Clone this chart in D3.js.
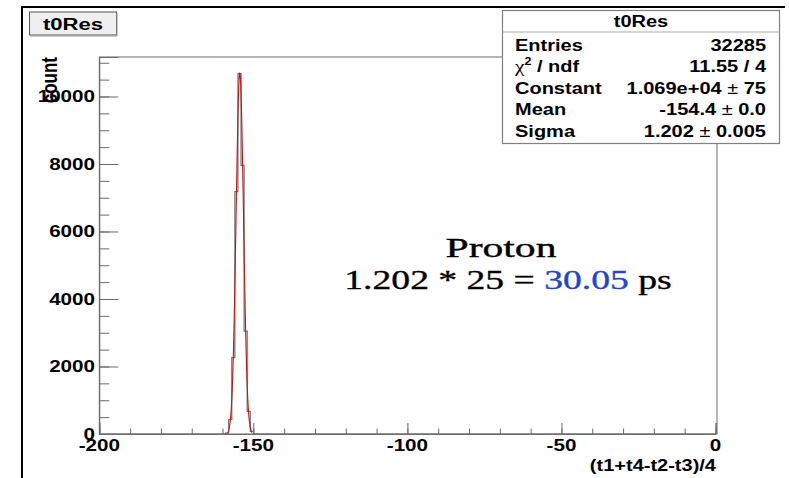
<!DOCTYPE html>
<html>
<head>
<meta charset="utf-8">
<script src="https://cdn.jsdelivr.net/npm/d3@7"></script>
<style>
  html, body { margin: 0; padding: 0; background: #fff; }
  svg { display: block; }
</style>
</head>
<body>
<svg id="chart" width="789" height="478"></svg>
<script>
// ---- data ----
const histTitle = "t0Res";
const xTitle = "(t1+t4-t2-t3)/4";
const yTitle = "count";
const binLow = [-160, -159, -158, -157, -156, -155, -154, -153, -152, -151, -150];
const binCount = [5, 25, 430, 2260, 7180, 10680, 7960, 3050, 670, 80, 8];
const binWidth = 1;
const xMajorTicks = [-200, -150, -100, -50, 0];
const yMajorTicks = [0, 2000, 4000, 6000, 8000, 10000];
const fitConstant = 1.069e4, fitMean = -154.4, fitSigma = 1.202;
const fitRange = [-158.6, -150.4];
const statLabels = ["Entries", "χ2 / ndf", "Constant", "Mean", "Sigma"];
const statValues = [["32285"], ["11.55 / 4"], ["1.069e+04", "75"], ["-154.4", "0.0"], ["1.202", "0.005"]];
const noteLine1 = "Proton";
const noteLine2 = ["1.202 * 25 = ", "30.05", " ps"];

// ---- layout ----
const svg = d3.select("#chart");
const L = 99.3, R = 715.5, T = 57, B = 434;
const x = d3.scaleLinear().domain([-200, 0]).range([L, R]);
const y = d3.scaleLinear().domain([0, 11170]).range([B, T]);
const SANS = "'Liberation Sans', Arial, sans-serif";
const SERIF = "'Liberation Serif', 'Times New Roman', serif";
const SX = 1.25;

function sText(g, px, py, str, anchor, size, sx) {
  return g.append("text")
    .attr("transform", `translate(${px},${py}) scale(${sx || SX},1)`)
    .attr("text-anchor", anchor || "start")
    .attr("font-family", SANS).attr("font-weight", "bold")
    .attr("font-size", size || 16).attr("fill", "#000")
    .text(str);
}

// outer canvas frame
svg.append("path").attr("d", "M22,478 L22,7 L785,7")
  .attr("fill", "none").attr("stroke", "#000").attr("stroke-width", 2);

// plot frame
svg.append("rect").attr("x", L).attr("y", T).attr("width", R - L + 1.5).attr("height", B - T)
  .attr("fill", "none").attr("stroke", "#6a6a6a").attr("stroke-width", 1);

// y axis (ticks inward)
const yMinor = d3.range(0, 11001, 500);
svg.append("g").attr("transform", `translate(${L},0)`)
  .call(d3.axisLeft(y).tickValues(yMinor).tickSize(-10).tickFormat(""))
  .call(g => { g.select(".domain").remove(); g.selectAll("line").attr("stroke", "#6a6a6a"); });
svg.append("g").attr("transform", `translate(${L},0)`)
  .call(d3.axisLeft(y).tickValues(yMajorTicks).tickSize(-19).tickFormat(""))
  .call(g => { g.select(".domain").attr("stroke", "#6a6a6a"); g.selectAll("line").attr("stroke", "#6a6a6a"); });
yMajorTicks.forEach(v => sText(svg, 95, y(v) + 6, String(v), "end", 16.5));

// x axis (ticks inward)
const xMinor = d3.range(-200, 1, 10);
svg.append("g").attr("transform", `translate(0,${B})`)
  .call(d3.axisBottom(x).tickValues(xMinor).tickSize(-5.5).tickFormat(""))
  .call(g => { g.select(".domain").remove(); g.selectAll("line").attr("stroke", "#6a6a6a"); });
svg.append("g").attr("transform", `translate(0,${B})`)
  .call(d3.axisBottom(x).tickValues(xMajorTicks).tickSize(-11).tickFormat(""))
  .call(g => { g.select(".domain").attr("stroke", "#6a6a6a"); g.selectAll("line").attr("stroke", "#6a6a6a"); });
xMajorTicks.forEach(v => sText(svg, x(v), 451, String(v), "middle", 16.5));

// axis titles
sText(svg, 716, 471, xTitle, "end");
svg.append("text")
  .attr("transform", `translate(57,${T}) rotate(-90) scale(1,1.25)`)
  .attr("text-anchor", "end").attr("font-family", SANS).attr("font-weight", "bold")
  .attr("font-size", 17).text(yTitle);

// histogram step outline (outline only, like ROOT's default draw)
let pts = [[x(-200), y(0)], [x(binLow[0]), y(0)]];
binLow.forEach((lo, i) => {
  pts.push([x(lo), y(binCount[i])]);
  pts.push([x(lo + binWidth), y(binCount[i])]);
});
pts.push([x(binLow[binLow.length - 1] + binWidth), y(0)]);
pts.push([x(0), y(0)]);
svg.append("path").attr("d", d3.line()(pts))
  .attr("fill", "none").attr("stroke", "#707070").attr("stroke-width", 1.2);

// gaussian fit curve from the fitted parameters
const fx = d3.range(0, 161).map(i => fitRange[0] + (fitRange[1] - fitRange[0]) * i / 160);
svg.append("path")
  .attr("d", d3.line().x(d => x(d)).y(d => y(fitConstant * Math.exp(-0.5 * Math.pow((d - fitMean) / fitSigma, 2))))(fx))
  .attr("fill", "none").attr("stroke", "#cc1111").attr("stroke-width", 1.1);

// title box
svg.append("rect").attr("x", 29.5).attr("y", 12).attr("width", 87).attr("height", 23)
  .attr("fill", "#efefef").attr("stroke", "#555").attr("stroke-width", 1);
svg.append("path").attr("d", "M117,13 L117,36 L30,36").attr("fill", "none").attr("stroke", "#999");
sText(svg, 73, 30, histTitle, "middle", 17, 1.3);

// stats box
const sb = svg.append("g");
sb.append("rect").attr("x", 502.5).attr("y", 10.5).attr("width", 277).attr("height", 133)
  .attr("fill", "#fff").attr("stroke", "#808080").attr("stroke-width", 1.2);
sb.append("line").attr("x1", 502.5).attr("x2", 779.5).attr("y1", 32).attr("y2", 32)
  .attr("stroke", "#aaa").attr("stroke-width", 1);
sText(sb, 641, 27, histTitle, "middle");
statLabels.forEach((lab, i) => {
  const by = 50.7 + i * 21.5;
  if (lab.startsWith("χ")) {
    const t = sb.append("text")
      .attr("transform", `translate(515,${by}) scale(${SX},1)`)
      .attr("font-family", SANS).attr("font-weight", "bold").attr("font-size", 16);
    t.append("tspan").attr("font-family", SERIF).attr("font-weight", "normal").attr("font-size", 17).text("χ");
    t.append("tspan").attr("font-size", 10).attr("dy", -7).text("2");
    t.append("tspan").attr("dy", 7).text(" / ndf");
  } else {
    sText(sb, 515, by, lab, "start");
  }
  const v = statValues[i];
  const t = sb.append("text")
    .attr("transform", `translate(766,${by}) scale(${SX},1)`)
    .attr("text-anchor", "end")
    .attr("font-family", SANS).attr("font-weight", "bold").attr("font-size", 16);
  t.append("tspan").text(v[0]);
  if (v.length > 1) {
    t.append("tspan").attr("font-weight", "normal").text(" ± ");
    t.append("tspan").text(v[1]);
  }
});

// annotation
svg.append("text")
  .attr("transform", "translate(501,257) scale(1.57,1)")
  .attr("text-anchor", "middle").attr("font-family", SERIF).attr("font-size", 26.5)
  .attr("stroke", "#000").attr("stroke-width", 0.35)
  .text(noteLine1);
const n2 = svg.append("text")
  .attr("transform", "translate(508,289) scale(1.42,1)")
  .attr("text-anchor", "middle").attr("font-family", SERIF).attr("font-size", 26.5)
  .attr("stroke", "#000").attr("stroke-width", 0.35);
n2.append("tspan").text(noteLine2[0]);
n2.append("tspan").attr("fill", "#1f47c8").attr("stroke", "#1f47c8").text(noteLine2[1]);
n2.append("tspan").text(noteLine2[2]);
</script>
</body>
</html>
